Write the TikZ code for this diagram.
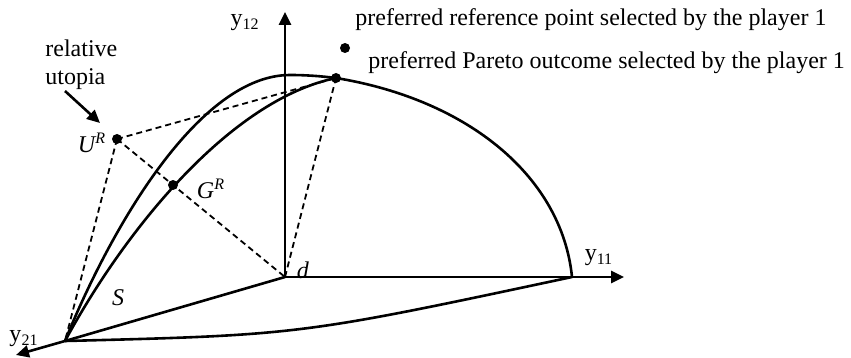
\documentclass[tikz,border=0pt]{standalone}
\usepackage{fontspec}
\setmainfont{Liberation Serif}
\usetikzlibrary{arrows.meta}
\begin{document}
\begin{tikzpicture}[x=0.5pt,y=-0.5pt,
  curve/.style={line width=1.3pt},
  axis/.style={line width=1.3pt,-{Triangle[length=6.5pt,width=6pt]}},
  dashline/.style={line width=0.9pt,dash pattern=on 3pt off 2pt},
  dot/.style={circle,fill=black,inner sep=0pt,minimum size=5pt},
  lbl/.style={inner sep=0pt,font=\fontsize{12}{14}\selectfont}]
\useasboundingbox (0,0) rectangle (851,358);
% key points
\coordinate (c) at (65,341);
\coordinate (d0) at (285,277);
\coordinate (e11) at (572,277);
\coordinate (t11) at (624,277);
\coordinate (t12) at (285,12);
\coordinate (t21) at (16,355);
\coordinate (top) at (290,75);
\node[dot] (U) at (117,139) {};
\node[dot] (G) at (173,185) {};
\node[dot] (P) at (336,78) {};
\node[dot] (Rf) at (345,48) {};
% axes
\draw[axis] (d0) -- (t12);
\draw[axis] (d0) -- (t11);
\draw[curve] (d0) -- (c);
\draw[axis] (c) -- (t21);
% dashed lines
\draw[dashline] (U.center) -- (c);
\draw[dashline] (U.center) -- (P.center);
\draw[dashline] (U.center) -- (d0);
\draw[dashline] (d0) -- (P.center);
% Pareto surface curves
\draw[curve] (c) .. controls (112,225) and (200,75) .. (top) .. controls (305,75) and (320,76) .. (P.center);
\draw[curve] (c) .. controls (125,230) and (230,100) .. (P.center);
\draw[curve] (P.center) .. controls (470,100) and (562,178) .. (e11);
\draw[curve] (c) .. controls (300,335) .. (e11);
% labels
\node[lbl] (ly12) at (245,23) {y\textsubscript{12}};
\node[lbl] (ly11) at (599,258) {y\textsubscript{11}};
\node[lbl] (ly21) at (24,339) {y\textsubscript{21}};
\node[lbl] (lU) at (92,143) {\textit{U\textsuperscript{R}}};
\node[lbl] (lG) at (211,189) {\textit{G\textsuperscript{R}}};
\node[lbl] (ld) at (303,270) {\textit{d}};
\node[lbl] (lS) at (118,298) {\textit{S}};
\node[lbl,anchor=base west] (rel) at (45,57) {relative};
\node[lbl,anchor=base west] (uto) at (45,85) {utopia};
\node[lbl,anchor=west] (t1) at (355,20) {preferred reference point selected by the player 1};
\node[lbl,anchor=west] (t2) at (368,63) {preferred Pareto outcome selected by the player 1};
\coordinate (a0) at (65,91);
\coordinate (a1) at (100,123);
\draw[line width=1.3pt,-{Triangle[length=6.5pt,width=6pt]}] (a0) -- (a1);
\end{tikzpicture}
\end{document}
